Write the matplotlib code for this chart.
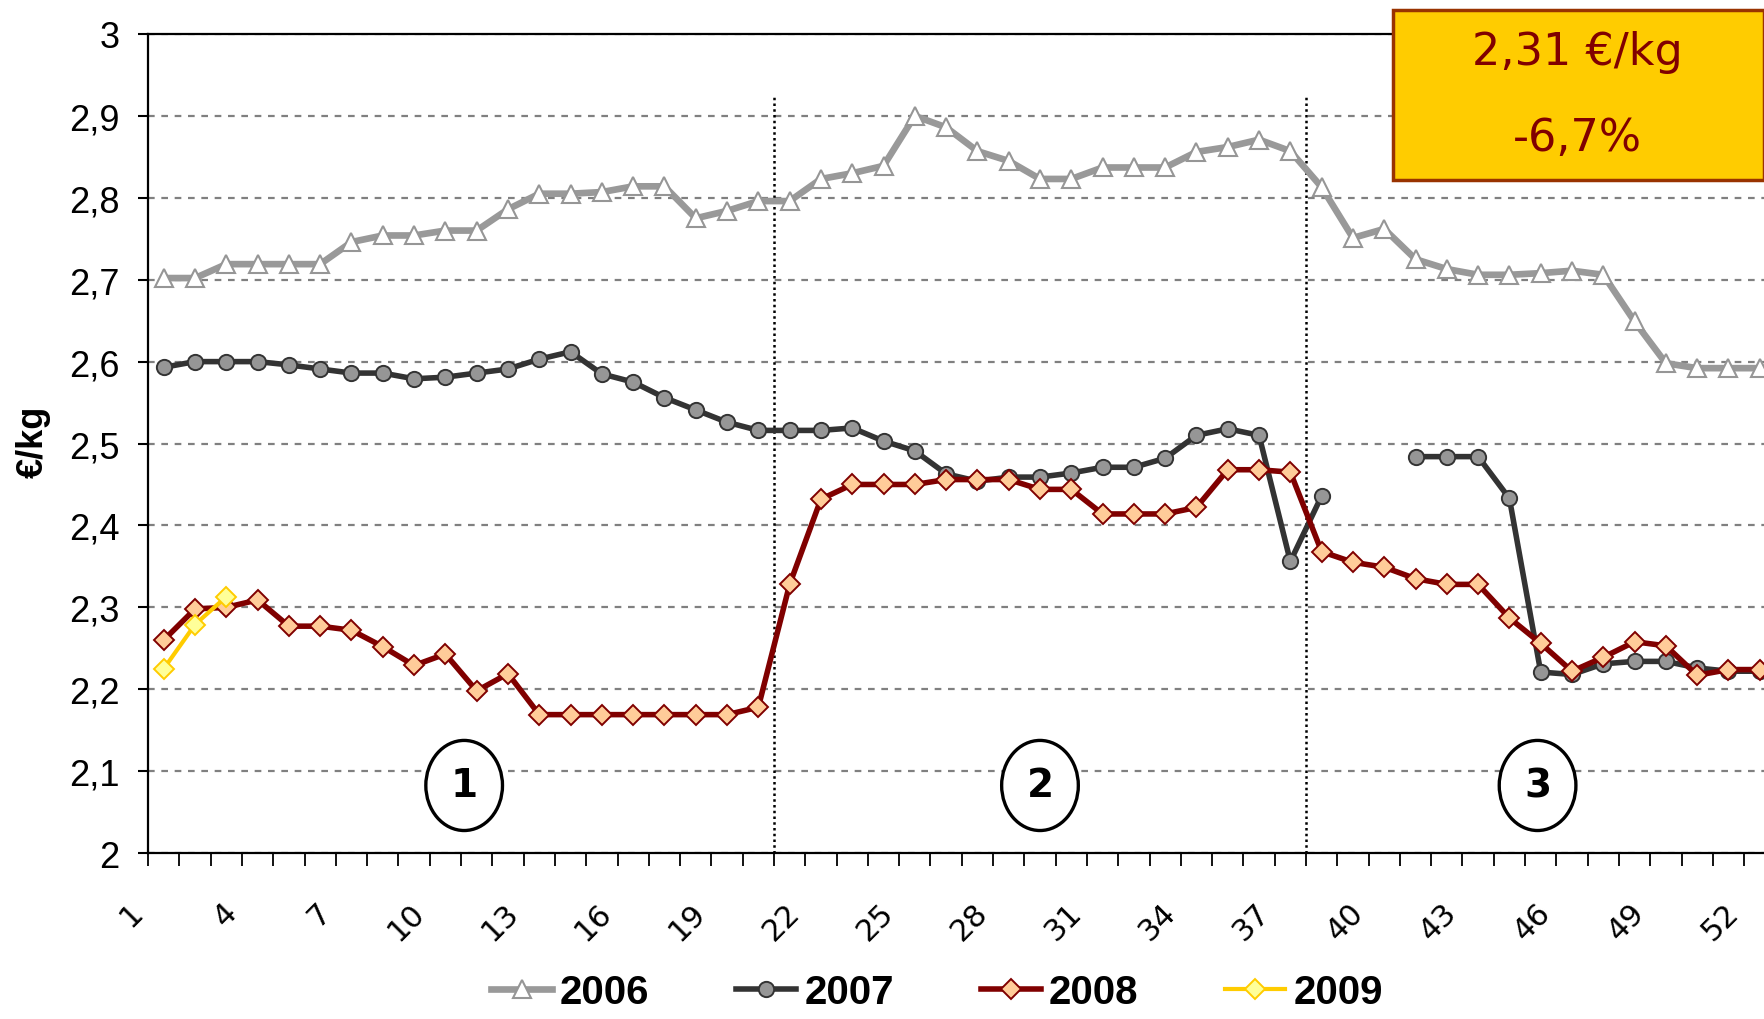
import matplotlib
matplotlib.use('Agg')
import matplotlib.pyplot as plt
import numpy as np
from matplotlib.patches import Ellipse, Rectangle
from matplotlib.transforms import ScaledTranslation

nan = np.nan
weeks = list(range(1, 53))

price_2006 = [2.702, 2.702, 2.719, 2.719, 2.719, 2.719, 2.746, 2.754, 2.754, 2.760,
              2.760, 2.786, 2.805, 2.805, 2.807, 2.814, 2.814, 2.775, 2.784, 2.796,
              2.796, 2.823, 2.830, 2.839, 2.900, 2.886, 2.857, 2.845, 2.823, 2.823,
              2.837, 2.837, 2.837, 2.856, 2.862, 2.871, 2.857, 2.813, 2.751, 2.762,
              2.725, 2.713, 2.706, 2.706, 2.708, 2.711, 2.706, 2.649, 2.598, 2.592,
              2.592, 2.592]
price_2007 = [2.593, 2.600, 2.600, 2.600, 2.596, 2.591, 2.586, 2.586, 2.579, 2.581,
              2.586, 2.591, 2.603, 2.612, 2.585, 2.575, 2.556, 2.541, 2.526, 2.516,
              2.516, 2.516, 2.519, 2.503, 2.491, 2.463, 2.454, 2.459, 2.459, 2.464,
              2.471, 2.471, 2.482, 2.510, 2.518, 2.510, 2.356, 2.436, nan, nan,
              2.484, 2.484, 2.484, 2.433, 2.221, 2.218, 2.231, 2.234, 2.234, 2.226,
              2.222, 2.222]
price_2008 = [2.260, 2.298, 2.300, 2.309, 2.277, 2.277, 2.272, 2.252, 2.229, 2.243,
              2.198, 2.219, 2.169, 2.169, 2.169, 2.169, 2.169, 2.169, 2.169, 2.178,
              2.328, 2.432, 2.450, 2.450, 2.450, 2.456, 2.456, 2.456, 2.444, 2.444,
              2.414, 2.414, 2.414, 2.422, 2.468, 2.468, 2.465, 2.368, 2.355, 2.349,
              2.335, 2.328, 2.328, 2.287, 2.256, 2.222, 2.239, 2.258, 2.253, 2.217,
              2.224, 2.224]
weeks_2009 = [1, 2, 3]
price_2009 = [2.225, 2.279, 2.313]

x_tick_weeks = list(range(1, 53, 3))
x_tick_labels = [str(w) for w in x_tick_weeks]
y_ticks = [2.0, 2.1, 2.2, 2.3, 2.4, 2.5, 2.6, 2.7, 2.8, 2.9, 3.0]
y_tick_labels = ['2', '2,1', '2,2', '2,3', '2,4', '2,5', '2,6', '2,7', '2,8', '2,9', '3']
period_bounds = [20.5, 37.5]
period_labels = ['1', '2', '3']
box_lines = ['2,31 €/kg', '-6,7%']

fig = plt.figure(figsize=(17.65, 10.2), dpi=100)
ax = fig.add_axes([0.0839, 0.1627, 0.922, 0.803])

ax.plot(weeks, price_2006, color='#999999', lw=4.8, marker='^', ms=13,
        mfc='white', mec='#969696', mew=1.5, label='2006', zorder=3)
ax.plot(weeks, price_2007, color='#333333', lw=4.0, marker='o', ms=11,
        mfc='#969696', mec='#333333', mew=1.4, label='2007', zorder=4)
ax.plot(weeks, price_2008, color='#800000', lw=4.0, marker='D', ms=10,
        mfc='#FFCC99', mec='#800000', mew=1.4, label='2008', zorder=5)
ax.plot(weeks_2009, price_2009, color='#FFCC00', lw=3.0, marker='D', ms=10,
        mfc='#FFFF99', mec='#FFCC00', mew=1.4, label='2009', zorder=6)

ax.set_xlim(0.5, 52.5)
ax.set_ylim(2, 3)
ax.set_yticks(y_ticks)
ax.set_yticklabels(y_tick_labels, fontsize=26, family='Liberation Sans')
ax.set_xticks(x_tick_weeks)
ax.set_xticklabels(x_tick_labels, fontsize=22, family='DejaVu Sans',
                   rotation=45, ha='right', va='center', rotation_mode='anchor')
ax.set_xticks(np.arange(0.5, 53, 1), minor=True)
ax.tick_params(axis='x', which='major', length=0, pad=39)
ax.tick_params(axis='x', which='minor', length=9, width=1.3, direction='out')
ax.tick_params(axis='y', length=7.5, width=1.5, direction='out', pad=13)
for lab in ax.get_xticklabels():
    lab.set_transform(lab.get_transform() + ScaledTranslation(-0.256, 0, fig.dpi_scale_trans))

ax.yaxis.grid(True, linestyle=(0, (3, 3)), color='#808080', lw=1.6)
ax.set_axisbelow(True)
for s in ['left', 'bottom', 'top']:
    ax.spines[s].set_linewidth(1.6)
    ax.spines[s].set_color('black')
ax.spines['right'].set_visible(False)

for b in period_bounds:
    ax.vlines(b, 2, 2.927, colors='black', linestyles=(0, (1, 1.3)), lw=1.8, zorder=2)

for lab, cx in zip(period_labels, [10.6, 29.0, 44.9]):
    ax.add_patch(Ellipse((cx, 2.0825), 2.45, 0.11, facecolor='white',
                         edgecolor='black', lw=2.4, zorder=7))
    ax.text(cx, 2.0825, lab, ha='center', va='center', fontsize=28,
            fontweight='bold', zorder=8)

fig.text(0.0187, 0.5667, '€/kg', rotation=90, fontsize=26, fontweight='bold',
         family='Liberation Sans', ha='center', va='center')

fig.patches.append(Rectangle((0.789, 0.8228), 0.2104, 0.1667, transform=fig.transFigure,
                             facecolor='#FFCC00', edgecolor='#993300', lw=2.5, zorder=10))
fig.text(0.8936, 0.949, box_lines[0], ha='center', va='center', fontsize=32,
         color='#800000', zorder=11)
fig.text(0.8936, 0.8645, box_lines[1], ha='center', va='center', fontsize=32,
         color='#800000', zorder=11)

leg = fig.legend(loc='center', bbox_to_anchor=(0.531, 0.026), ncol=4, frameon=False,
                 prop={'family': 'Liberation Sans', 'weight': 'bold', 'size': 29},
                 handlelength=1.5, handletextpad=0.2, columnspacing=2.15,
                 borderpad=0.1)

fig.savefig('out.png', dpi=100)
